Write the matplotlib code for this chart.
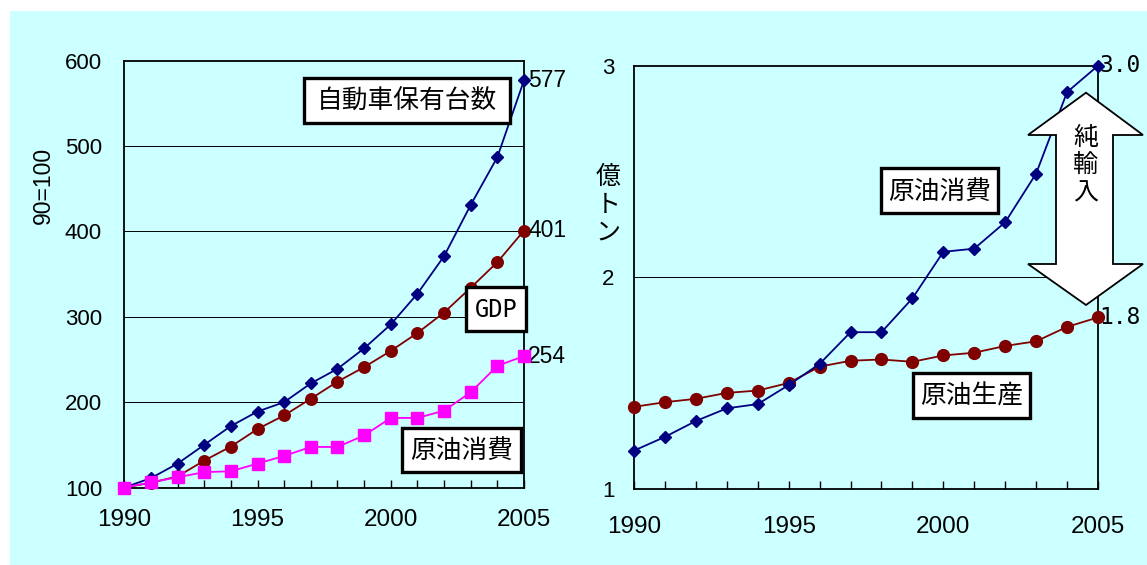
import numpy as np
import matplotlib
matplotlib.use("Agg")
import matplotlib.pyplot as plt
from matplotlib.patches import Rectangle, Polygon
from matplotlib.colors import LinearSegmentedColormap

plt.rcParams['font.family'] = ['Liberation Sans', 'Noto Sans CJK JP', 'DejaVu Sans']

# ---- data -------------------------------------------------------------
years = list(range(1990, 2006))

# index, 1990 = 100
car_index = [100, 111, 128, 150, 172, 189, 200, 222, 239, 263, 291, 327, 371, 431, 487, 577]
gdp_index = [100, 105.5, 113, 131.5, 148, 168.5, 184.5, 204, 224, 241, 260, 281, 305, 334, 364, 401]
oil_use_index = [100, 106, 112, 118, 119, 128, 137, 147.5, 147.5, 161, 181.5, 181.5, 190, 211.5, 242.5, 254]

# 100 million tonnes
oil_consumption = [1.18, 1.245, 1.32, 1.38, 1.40, 1.49, 1.59, 1.74, 1.74, 1.90,
                   2.12, 2.135, 2.26, 2.49, 2.875, 3.0]
oil_production = [1.387, 1.409, 1.425, 1.453, 1.464, 1.50, 1.577, 1.605, 1.611, 1.60,
                  1.63, 1.643, 1.675, 1.697, 1.765, 1.81]

left_yticks = [100, 200, 300, 400, 500, 600]
right_yticks = [1, 2, 3]
xtick_labels = [1990, 1995, 2000, 2005]

NAVY = "#000080"
DARKRED = "#800000"
MAGENTA = "#FF00FF"
CYAN = "#CCFFFF"

# ---- figure -----------------------------------------------------------
W, H = 1147, 565
fig = plt.figure(figsize=(W / 100, H / 100), dpi=100)


def px_rect(x0, x1, ytop, ybot):
    return [x0 / W, 1 - ybot / H, (x1 - x0) / W, (ybot - ytop) / H]


# background layer in pixel coordinates
bg = fig.add_axes([0, 0, 1, 1], zorder=-5)
bg.set_xlim(0, W)
bg.set_ylim(H, 0)
bg.axis("off")
bg.add_patch(Rectangle((10, 11), W - 10, H - 11, facecolor=CYAN, edgecolor="none"))
grad_cmap = LinearSegmentedColormap.from_list("panel", [CYAN, "#FFFFFF"])
grad = np.linspace(0, 1, 256).reshape(-1, 1)
for (gx0, gx1, gy1) in [(27, 568, 555), (583, 1142, 557)]:
    bg.imshow(grad, cmap=grad_cmap, extent=(gx0, gx1, gy1, 30), aspect="auto",
              interpolation="bilinear")
bg.set_xlim(0, W)
bg.set_ylim(H, 0)

axL = fig.add_axes(px_rect(124.3, 524, 60.7, 487.5))
axR = fig.add_axes(px_rect(634, 1098, 65.7, 488.7))


def style_axes(ax, ylim, yticks, grid_vals, ypad, xpad):
    ax.set_facecolor("none")
    ax.set_xlim(1990, 2005)
    ax.set_ylim(*ylim)
    ax.set_xticks(years)
    ax.set_xticklabels([str(y) if y in xtick_labels else "" for y in years])
    ax.set_yticks(yticks)
    ax.set_yticklabels([str(v) for v in yticks])
    ax.tick_params(axis="x", direction="in", length=6, width=1.0, color="black",
                   labelsize=17.5, pad=xpad)
    ax.tick_params(axis="y", length=0, labelsize=16, pad=ypad)
    for s in ax.spines.values():
        s.set_linewidth(1.3)
        s.set_color("black")
    for g in grid_vals:
        ax.axhline(g, color="black", lw=0.7, zorder=1)


style_axes(axL, (100, 600), left_yticks, [200, 300, 400, 500], ypad=16, xpad=15.5)
style_axes(axR, (1, 3), right_yticks, [2], ypad=14, xpad=19.5)

# ---- left panel: growth indices --------------------------------------
axL.plot(years, car_index, color=NAVY, lw=1.3, marker="D", ms=6.3,
         mec=NAVY, mfc=NAVY, clip_on=False, zorder=4)
axL.plot(years, gdp_index, color=DARKRED, lw=1.3, marker="o", ms=8.3,
         mec=DARKRED, mfc=DARKRED, clip_on=False, zorder=3)
axL.plot(years, oil_use_index, color=MAGENTA, lw=1.3, marker="s", ms=8.2,
         mec=MAGENTA, mfc=MAGENTA, clip_on=False, zorder=5)

for series in (car_index, gdp_index, oil_use_index):
    axL.annotate(f"{series[-1]:.0f}", xy=(years[-1], series[-1]), xytext=(3, 0),
                 textcoords="offset points", ha="left", va="center", fontsize=16.5,
                 annotation_clip=False)

# ---- right panel: crude oil volumes ----------------------------------
axR.plot(years, oil_consumption, color=NAVY, lw=1.3, marker="D", ms=6.3,
         mec=NAVY, mfc=NAVY, clip_on=False, zorder=4)
axR.plot(years, oil_production, color=DARKRED, lw=1.3, marker="o", ms=8.5,
         mec=DARKRED, mfc=DARKRED, clip_on=False, zorder=3)

for series in (oil_consumption, oil_production):
    axR.annotate(f"{series[-1]:.1f}", xy=(years[-1], series[-1]), xytext=(1, 0),
                 textcoords="offset points", ha="left", va="center", fontsize=16.5,
                 family="DejaVu Sans Mono", annotation_clip=False)

# ---- overlay: labelled boxes, axis titles, import arrow --------------
ov = fig.add_axes([0, 0, 1, 1], zorder=10)
ov.set_facecolor("none")
ov.axis("off")
ov.set_xlim(0, W)
ov.set_ylim(H, 0)


def label_box(x0, x1, ytop, ybot, text, size=18.5, family=None):
    ov.add_patch(Rectangle((x0, ytop), x1 - x0, ybot - ytop, facecolor="white",
                           edgecolor="black", lw=2.4))
    kw = {}
    if family:
        kw["family"] = family
    ov.text((x0 + x1) / 2, (ytop + ybot) / 2 + 1, text, ha="center", va="center",
            fontsize=size, **kw)


label_box(304, 510, 78, 123, "自動車保有台数")
label_box(466, 526, 287, 331, "GDP", size=17, family="DejaVu Sans Mono")
label_box(402, 521, 428, 472, "原油消費")
label_box(881, 998, 168, 213, "原油消費")
label_box(913, 1030, 373, 418, "原油生産")

ov.text(43, 185, "90=100", rotation=90, ha="center", va="center", fontsize=16.5)
ov.text(608, 205, "億\nト\nン", ha="center", va="center", fontsize=18,
        linespacing=1.2)

arrow = [(1086, 92.7), (1143, 135), (1113, 135), (1113, 264), (1143, 264),
         (1086, 305), (1028, 264), (1056, 264), (1056, 135), (1028, 135)]
ov.add_patch(Polygon(arrow, closed=True, facecolor="white", edgecolor="black",
                     lw=1.3, joinstyle="miter"))
ov.text(1086, 166, "純\n輸\n入", ha="center", va="center", fontsize=18,
        linespacing=1.2)

fig.savefig("out.png", dpi=100)
